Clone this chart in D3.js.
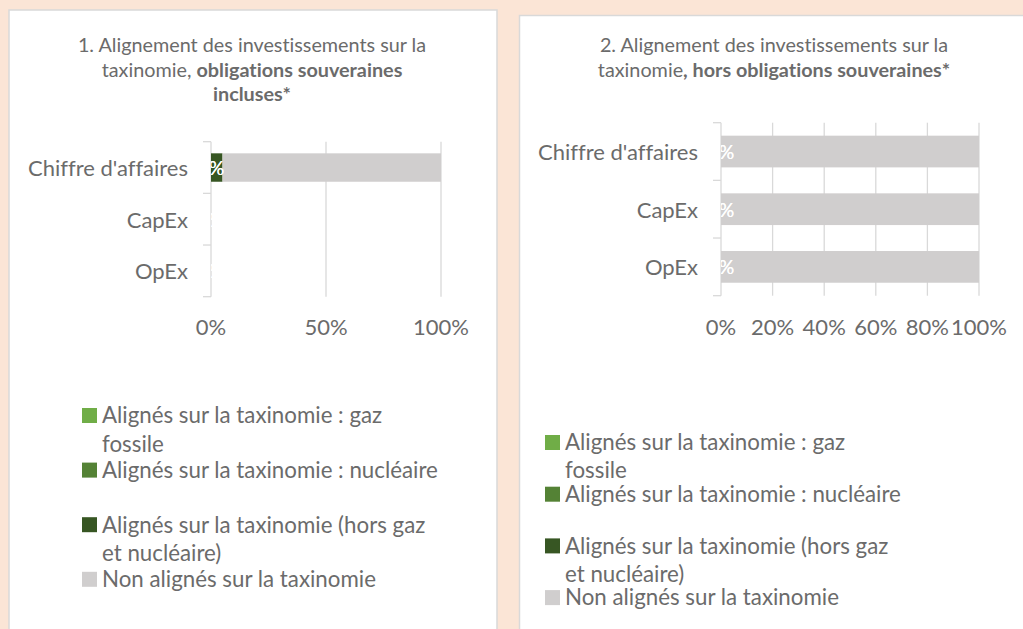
<!DOCTYPE html>
<html>
<head>
<meta charset="utf-8">
<script src="https://cdn.jsdelivr.net/npm/d3@7"></script>
<style>
  body { margin: 0; background: #fbe5d6; }
  svg { display: block; font-variant-ligatures: none; }
</style>
</head>
<body>
<div id="chart"></div>
<script>
// data
const categories = ["Chiffre d'affaires", "CapEx", "OpEx"];
const seriesKeys = ["gaz", "nucleaire", "horsGaz", "nonAlignes"];
const seriesNames = [
  "Alignés sur la taxinomie : gaz fossile",
  "Alignés sur la taxinomie : nucléaire",
  "Alignés sur la taxinomie (hors gaz et nucléaire)",
  "Non alignés sur la taxinomie"
];
const legendLines = [
  ["Alignés sur la taxinomie : gaz", "fossile"],
  ["Alignés sur la taxinomie : nucléaire"],
  ["Alignés sur la taxinomie (hors gaz", "et nucléaire)"],
  ["Non alignés sur la taxinomie"]
];
const seriesColors = ["#70ad47", "#548235", "#375623", "#d0cece"];

// chart 1 : obligations souveraines incluses (%)
const gaz1 = [0, 0, 0];
const nucleaire1 = [0, 0, 0];
const horsGaz1 = [5, 0, 0];
const nonAlignes1 = [95, 0, 0];
const ticks1 = [0, 50, 100];
const title1 = [
  [{ t: "1. Alignement des investissements sur la" }],
  [{ t: "taxinomie, " }, { t: "obligations souveraines", b: true }],
  [{ t: "incluses*", b: true }]
];

// chart 2 : hors obligations souveraines (%)
const gaz2 = [0, 0, 0];
const nucleaire2 = [0, 0, 0];
const horsGaz2 = [0, 0, 0];
const nonAlignes2 = [100, 100, 100];
const ticks2 = [0, 20, 40, 60, 80, 100];
const title2 = [
  [{ t: "2. Alignement des investissements sur la" }],
  [{ t: "taxinomie" }, { t: ", hors obligations souveraines*", b: true }]
];

const width = 1023, height = 629;
const font = "Lato, 'Open Sans', sans-serif";
const textColor = "#6b6b6b";
const gridColor = "#d9d9d9";

const svg = d3.select("#chart")
  .append("svg")
  .attr("width", width)
  .attr("height", height)
  .style("font-family", font);

const panels = [
  {
    id: 1, values: [gaz1, nucleaire1, horsGaz1, nonAlignes1], ticks: ticks1, title: title1,
    box: [9, 10, 488, 700], titleX: 252, titleY: 52, titleStep: 24.5,
    x0: 211, x1: 441, y0: 141.7, y1: 296.7, tickY: 335, catX: 188,
    legX: 82, legY: 408, legStep: 54.6, legLine: 29
  },
  {
    id: 2, values: [gaz2, nucleaire2, horsGaz2, nonAlignes2], ticks: ticks2, title: title2,
    box: [519.5, 15.5, 600, 700], titleX: 774, titleY: 52, titleStep: 25,
    x0: 721, x1: 979, y0: 122.7, y1: 295.7, tickY: 335, catX: 698,
    legX: 545, legY: 435, legStep: 51.7, legLine: 28
  }
];

panels.forEach(p => {
  const g = svg.append("g");

  g.append("rect")
    .attr("x", p.box[0]).attr("y", p.box[1])
    .attr("width", p.box[2]).attr("height", p.box[3])
    .attr("fill", "white")
    .attr("stroke", gridColor)
    .attr("stroke-width", 1.5);

  // title
  g.append("g")
    .attr("fill", textColor)
    .attr("font-size", 19.8)
    .attr("text-anchor", "middle")
    .selectAll("text")
    .data(p.title)
    .join("text")
    .attr("x", p.titleX)
    .attr("y", (d, i) => p.titleY + i * p.titleStep)
    .selectAll("tspan")
    .data(d => d)
    .join("tspan")
    .attr("font-weight", d => d.b ? "bold" : null)
    .text(d => d.t);

  const rows = categories.map((c, i) => {
    const r = { category: c };
    seriesKeys.forEach((k, j) => r[k] = p.values[j][i]);
    return r;
  });
  const stacked = d3.stack().keys(seriesKeys)(rows);

  const x = d3.scaleLinear().domain([0, 100]).range([p.x0, p.x1]);
  const y = d3.scaleBand().domain(categories).range([p.y0, p.y1])
    .paddingInner(0.45).paddingOuter(0.225);

  // vertical gridlines
  g.append("g")
    .attr("stroke", gridColor)
    .attr("stroke-width", 1.3)
    .selectAll("line")
    .data(p.ticks.filter(t => t > 0))
    .join("line")
    .attr("x1", d => x(d)).attr("x2", d => x(d))
    .attr("y1", p.y0).attr("y2", p.y1);

  // category axis with ticks between bands
  const axis = g.append("g").attr("stroke", gridColor).attr("stroke-width", 1.3);
  axis.append("line")
    .attr("x1", x(0)).attr("x2", x(0))
    .attr("y1", p.y0).attr("y2", p.y1);
  axis.selectAll(".tk")
    .data(d3.range(categories.length + 1))
    .join("line")
    .attr("x1", x(0) - 8).attr("x2", x(0))
    .attr("y1", i => p.y0 + i * y.step()).attr("y2", i => p.y0 + i * y.step());

  // bars
  g.append("g")
    .selectAll("g")
    .data(stacked)
    .join("g")
    .attr("fill", (d, i) => seriesColors[i])
    .selectAll("rect")
    .data(d => d)
    .join("rect")
    .attr("x", d => x(d[0]))
    .attr("width", d => x(d[1]) - x(d[0]))
    .attr("y", d => y(d.data.category))
    .attr("height", y.bandwidth());

  // data labels (gaz, nucléaire), clipped to the plot area
  const clipId = "clip" + p.id;
  g.append("clipPath").attr("id", clipId)
    .append("rect")
    .attr("x", p.x0).attr("y", p.y0)
    .attr("width", p.x1 - p.x0).attr("height", p.y1 - p.y0);
  g.append("g")
    .attr("clip-path", `url(#${clipId})`)
    .attr("fill", "white")
    .attr("font-size", 19)
    .attr("text-anchor", "middle")
    .attr("dominant-baseline", "central")
    .selectAll("g")
    .data(stacked.slice(0, 2))
    .join("g")
    .selectAll("text")
    .data(d => d)
    .join("text")
    .attr("x", d => x((d[0] + d[1]) / 2))
    .attr("y", d => y(d.data.category) + y.bandwidth() / 2)
    .text(d => `${d[1] - d[0]}%`);

  // value tick labels
  g.append("g")
    .attr("fill", textColor)
    .attr("font-size", 22)
    .attr("text-anchor", "middle")
    .selectAll("text")
    .data(p.ticks)
    .join("text")
    .attr("x", d => x(d))
    .attr("y", p.tickY)
    .text(d => `${d}%`);

  // category labels
  g.append("g")
    .attr("fill", textColor)
    .attr("font-size", 22)
    .attr("text-anchor", "end")
    .attr("dominant-baseline", "central")
    .selectAll("text")
    .data(categories)
    .join("text")
    .attr("x", p.catX)
    .attr("y", d => y(d) + y.bandwidth() / 2)
    .text(d => d);

  // legend
  const leg = g.append("g")
    .selectAll("g")
    .data(seriesNames)
    .join("g")
    .attr("transform", (d, i) => `translate(${p.legX},${p.legY + i * p.legStep})`);
  leg.append("rect")
    .attr("width", 15).attr("height", 15)
    .attr("fill", (d, i) => seriesColors[i]);
  leg.append("text")
    .attr("fill", textColor)
    .attr("font-size", 22.3)
    .selectAll("tspan")
    .data((d, i) => legendLines[i])
    .join("tspan")
    .attr("x", 20)
    .attr("y", (d, i) => 7.5 + i * p.legLine)
    .attr("dy", "0.35em")
    .text(d => d);
});
</script>
</body>
</html>
